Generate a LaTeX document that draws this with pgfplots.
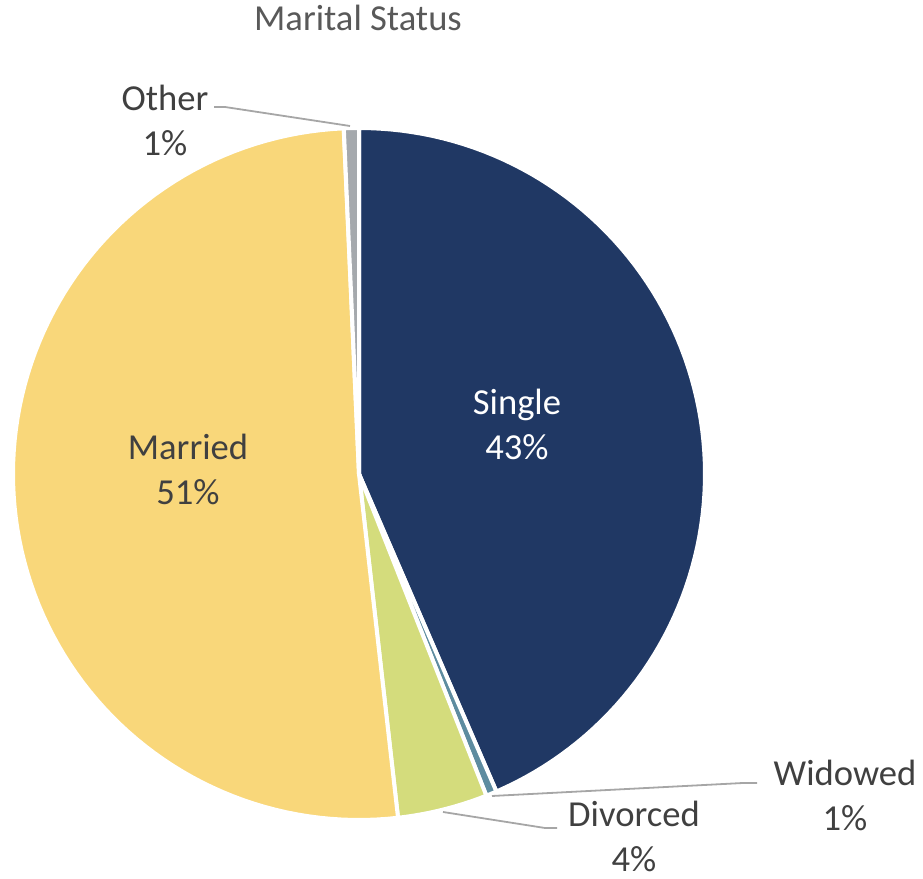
\documentclass[border=0pt]{standalone}
\usepackage{fontspec}
\setmainfont{Carlito}
\usepackage{pgfplots}
\pgfplotsset{compat=1.18}

\definecolor{single}{HTML}{203864}
\definecolor{widowed}{HTML}{5E8CA0}
\definecolor{divorced}{HTML}{D4DC7C}
\definecolor{married}{HTML}{F9D77A}
\definecolor{other}{HTML}{A5A9AD}
\definecolor{lbl}{HTML}{404040}
\definecolor{ttl}{HTML}{595959}
\definecolor{leader}{HTML}{A6A6A6}

% shares in percent, clockwise from 12 o'clock
\def\vSingle{43.5}
\def\vWidowed{0.5}
\def\vDivorced{4.2}
\def\vMarried{51.1}
\def\vOther{0.7}

\pgfmathsetmacro\aA{0}
\pgfmathsetmacro\aB{\aA+3.6*\vSingle}
\pgfmathsetmacro\aC{\aB+3.6*\vWidowed}
\pgfmathsetmacro\aD{\aC+3.6*\vDivorced}
\pgfmathsetmacro\aE{\aD+3.6*\vMarried}
\pgfmathsetmacro\aF{\aE+3.6*\vOther}

\def\cx{359}
\def\cy{405}
\def\rr{346}

\begin{document}
\begin{tikzpicture}
\begin{axis}[
  width=461.5pt, height=439.5pt, scale only axis,
  xmin=0, xmax=923, ymin=0, ymax=879,
  hide axis, clip=false,
  every axis plot/.append style={draw=white, line width=2pt, variable=\t},
  font=\fontsize{18.3}{22}\selectfont
]
% slices
\addplot[fill=single, domain=\aA:\aB, samples=90] ({\cx+\rr*sin(t)},{\cy+\rr*cos(t)}) -- (axis cs:\cx,\cy) -- cycle;
\addplot[fill=widowed, domain=\aB:\aC, samples=4] ({\cx+\rr*sin(t)},{\cy+\rr*cos(t)}) -- (axis cs:\cx,\cy) -- cycle;
\addplot[fill=divorced, domain=\aC:\aD, samples=12] ({\cx+\rr*sin(t)},{\cy+\rr*cos(t)}) -- (axis cs:\cx,\cy) -- cycle;
\addplot[fill=married, domain=\aD:\aE, samples=100] ({\cx+\rr*sin(t)},{\cy+\rr*cos(t)}) -- (axis cs:\cx,\cy) -- cycle;
\addplot[fill=other, domain=\aE:\aF, samples=4] ({\cx+\rr*sin(t)},{\cy+\rr*cos(t)}) -- (axis cs:\cx,\cy) -- cycle;

% leader lines
\addplot[leader, line width=0.9pt] coordinates {(214,772) (225,772) (350,753)};
\addplot[leader, line width=0.9pt] coordinates {(757,96) (743,96) (492,83)};
\addplot[leader, line width=0.9pt] coordinates {(557,51) (545,51) (443,67)};

% labels
\begin{scope}[every node/.style={inner sep=0pt, align=center}]
\node[ttl] at (axis cs:358,861) {Marital Status};
\node[lbl] at (axis cs:165,759) {Other\\[0.5pt]1\%};
\node[white] at (axis cs:517,455) {Single\\[0.5pt]43\%};
\node[lbl] at (axis cs:188,410) {Married\\[0.5pt]51\%};
\node[lbl] at (axis cs:845,84) {Widowed\\[0.5pt]1\%};
\node[lbl] at (axis cs:634,43) {Divorced\\[0.5pt]4\%};
\end{scope}
\end{axis}
\pgfresetboundingbox
\path (current axis.south west) rectangle (current axis.north east);
\end{tikzpicture}
\end{document}
